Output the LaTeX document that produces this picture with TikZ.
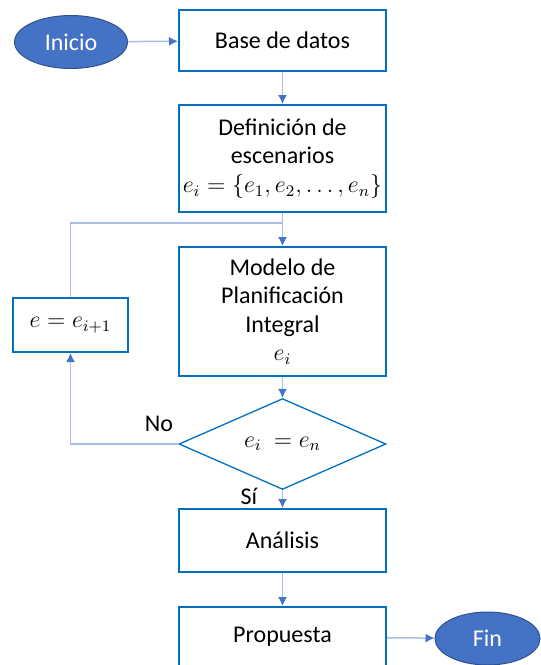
\documentclass[tikz,border=0pt]{standalone}
\usepackage{fontspec}
\setmainfont{Carlito}
\usepackage{amsmath}
\usepackage{tikz}
\usetikzlibrary{shapes.geometric,arrows.meta}
\newcommand{\scle}[0] {0.5}
\definecolor{boxblue}{HTML}{0070C0}
\definecolor{fillblue}{HTML}{4472C4}
\definecolor{rimblue}{HTML}{2F528F}
\definecolor{lineblue}{HTML}{A9BEE6}
\tikzset{
  stepbox/.style={shape=rectangle,draw=boxblue,line width=1pt,minimum width=103.5pt,inner sep=2pt,align=center,font=\fontsize{12}{14.3}\selectfont},
  endpoint/.style={shape=ellipse,draw=rimblue,fill=fillblue,text=white,line width=0.5pt,minimum height=26.5pt,inner sep=0pt,font=\fontsize{12}{14.3}\selectfont},
  decision/.style={shape=diamond,draw=boxblue,line width=0.65pt,minimum width=103.5pt,minimum height=45pt,inner sep=0pt,font=\fontsize{12}{14.3}\selectfont},
  tag/.style={inner sep=0pt,font=\fontsize{12}{14.3}\selectfont},
  link/.style={-{Latex[length=4.5pt,width=4.5pt,color=fillblue]},draw=lineblue,line width=0.75pt},
  plain/.style={-,draw=lineblue,line width=0.75pt}
}

\begin{document}
\begin{tikzpicture}[x=\scle pt, y=-\scle pt]
        \useasboundingbox (0,0) rectangle (541,665);

        \node[endpoint,minimum width=56.5pt] (ini) at (71, 42)     {Inicio};
        \node[stepbox,minimum height=30.5pt] (bd) at (282.5, 40.5)     {Base de datos};
        \node[stepbox,minimum height=53.5pt] (def) at (282.5, 158.5)     {Definición de\\ escenarios\\ $e_i=\{e_1,e_2,\ldots,e_n\}$};
        \node[stepbox,minimum height=64.5pt] (mod) at (282.5, 311.5)     {Modelo de\\ Planificación\\ Integral\\ $e_i$};
        \node[stepbox,minimum width=57.5pt,minimum height=27pt] (upd) at (70.5, 325)     {$e=e_{i+1}$};
        \node[decision] (dec) at (282.5, 444)     {$e_i\ =e_n$};
        \node[stepbox,minimum height=31.5pt] (ana) at (282.5, 540.5)     {Análisis};
        \node[stepbox,minimum height=30pt] (pro) at (282.5, 637)     {Propuesta};
        \node[endpoint,minimum width=52.5pt] (fin) at (487.5, 638.5)     {Fin};
        \coordinate (jn) at (282.5, 223);

        \node[tag] (no) at (159, 424)     {No};
        \node[tag] (si) at (249, 496)     {Sí};

        %main flow
        \path[link] (ini) edge (bd);
        \path[link] (bd) edge (def);
        \path[link] (def) edge (mod);
        \path[link] (mod) edge (dec);
        \path[link] (dec) edge (ana);
        \path[link] (ana) edge (pro);
        \path[link] (pro) edge (fin);

        %loop back
        \draw[link] (dec.west) -| (upd.south);
        \draw[plain] (upd.north) |- (jn);
\end{tikzpicture}
\end{document}
